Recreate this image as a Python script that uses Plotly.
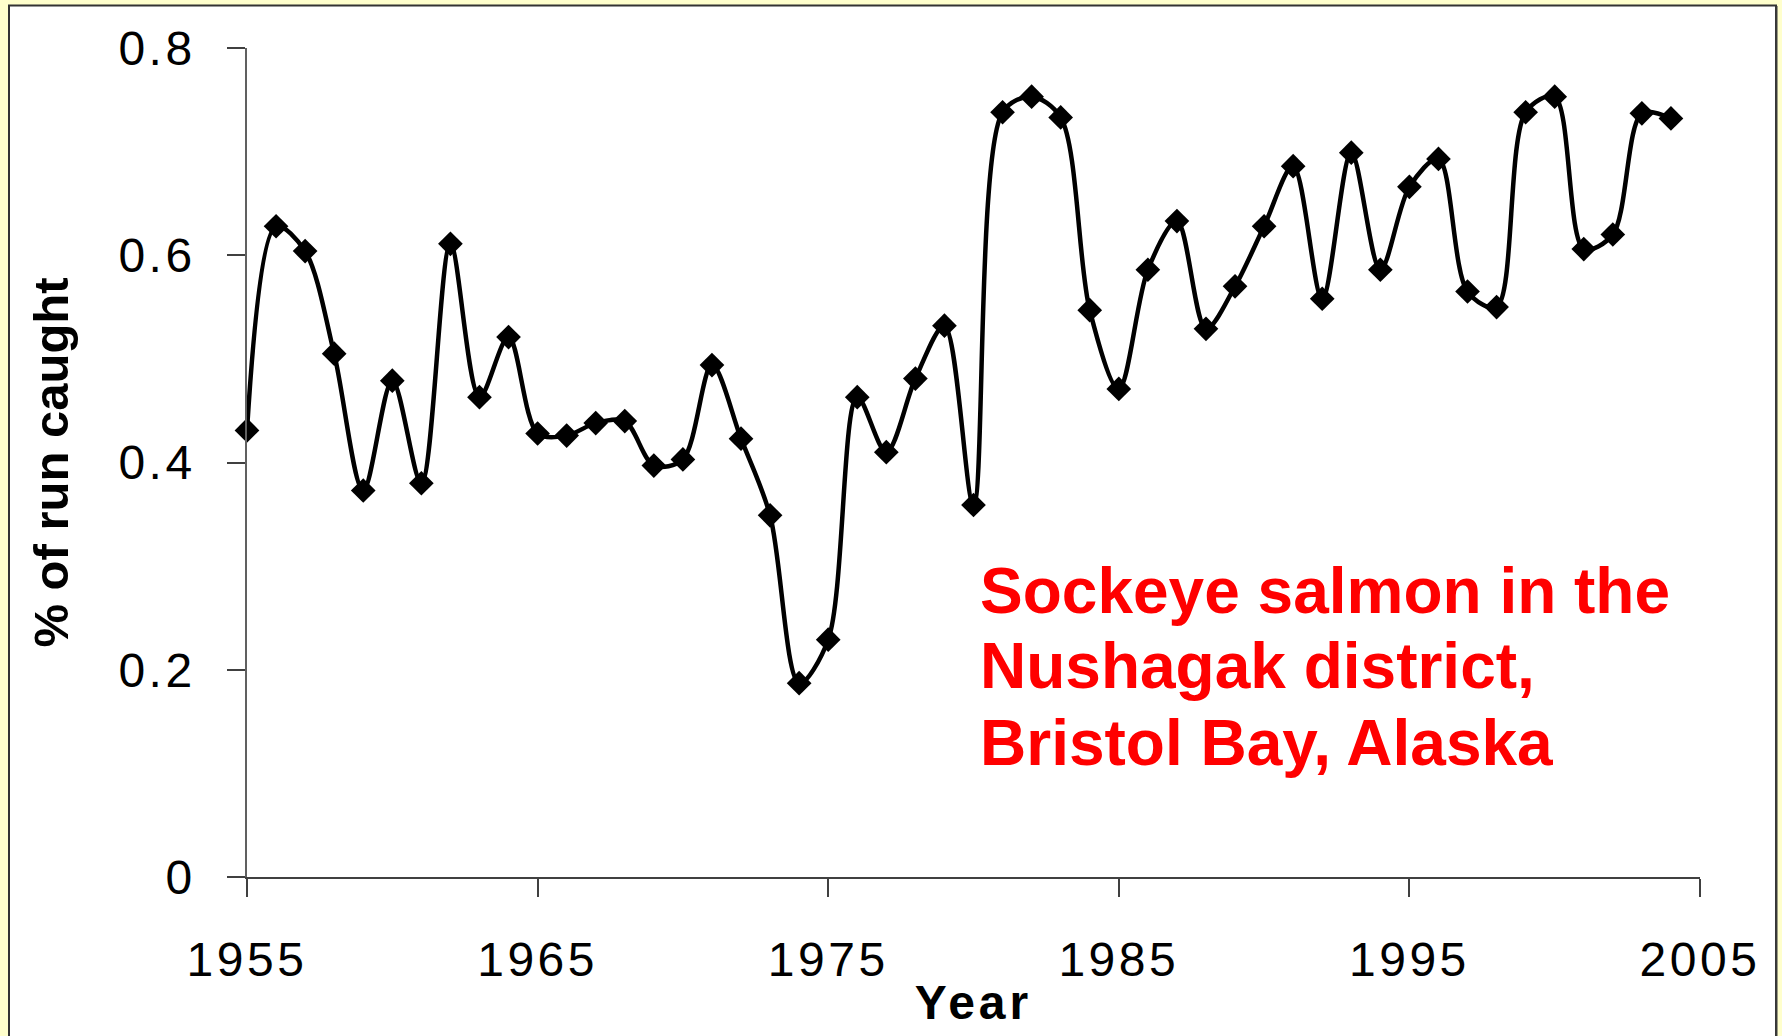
import plotly.graph_objects as go

years = list(range(1955, 2005))
caught = [0.431, 0.628, 0.604, 0.505, 0.373, 0.479, 0.380, 0.611, 0.463, 0.521,
          0.428, 0.426, 0.438, 0.440, 0.397, 0.403, 0.494, 0.423, 0.349, 0.187,
          0.229, 0.463, 0.410, 0.481, 0.532, 0.359, 0.738, 0.753, 0.733, 0.547,
          0.471, 0.586, 0.633, 0.529, 0.570, 0.628, 0.686, 0.558, 0.699, 0.586,
          0.666, 0.693, 0.565, 0.550, 0.738, 0.753, 0.606, 0.620, 0.737, 0.732]

x_ticks = [1955, 1965, 1975, 1985, 1995, 2005]
y_ticks = [0, 0.2, 0.4, 0.6, 0.8]
y_tick_text = ["0", "0.2", "0.4", "0.6", "0.8"]
note_lines = ["Sockeye salmon in the", "Nushagak district,", "Bristol Bay, Alaska"]

W, H = 1782, 1036
L, R, T, B = 247, 82, 48, 159
pw, ph = W - L - R, H - T - B

def px_x(p):
    return (p - L) / pw

def px_y(p):
    return (H - B - p) / ph

fig = go.Figure()
fig.add_trace(go.Scatter(
    x=years, y=caught, mode="lines+markers",
    line=dict(color="black", width=4.5, shape="spline", smoothing=0.9),
    marker=dict(symbol="diamond", size=19, color="black"),
    showlegend=False, cliponaxis=False,
))

fig.add_shape(type="rect", xref="paper", yref="paper",
              x0=px_x(9), x1=px_x(1776), y0=px_y(1060), y1=px_y(5.5),
              line=dict(color="#333333", width=2), fillcolor="white", layer="below")
fig.add_shape(type="line", xref="paper", yref="paper",
              x0=px_x(1776.5), x1=px_x(1776.5), y0=px_y(1060), y1=px_y(6),
              line=dict(color="#3a3a3a", width=2), layer="below")

centers = [591, 666, 743]
for txt, c in zip(note_lines, centers):
    fig.add_annotation(text=txt, xref="paper", yref="paper",
                       x=px_x(978), y=px_y(c), xanchor="left", yanchor="middle",
                       showarrow=False, align="left",
                       font=dict(family="Liberation Sans, Arial", size=64,
                                 color="#FF0000", weight="bold"))

font_tick = dict(family="Liberation Sans, Arial", size=48, color="black")
fig.update_layout(
    width=W, height=H,
    margin=dict(l=L, r=R, t=T, b=B, pad=0),
    paper_bgcolor="#FFFFCC",
    plot_bgcolor="rgba(0,0,0,0)",
    xaxis=dict(range=[1955, 2005], tickvals=x_ticks, ticktext=[str(v) for v in x_ticks],
               showgrid=False, zeroline=False, showline=True, linecolor="#404040", linewidth=1.5,
               ticks="outside", ticklen=18, tickwidth=1.5, tickcolor="#404040",
               tickfont=font_tick, ticklabelstandoff=22,
               title=dict(text="Year", standoff=0,
                          font=dict(family="Liberation Sans, Arial", size=48, color="black", weight="bold"))),
    yaxis=dict(range=[0, 0.8], tickvals=y_ticks, ticktext=y_tick_text,
               showgrid=False, zeroline=False, showline=True, linecolor="#606060", linewidth=1.5,
               ticks="outside", ticklen=18, tickwidth=1.5, tickcolor="#404040",
               tickfont=font_tick, ticklabelstandoff=22,
               title=dict(text="% of run caught", standoff=45,
                          font=dict(family="Liberation Sans, Arial", size=49, color="black", weight="bold"))),
)

post = ("var s=document.createElement('style');"
        "s.textContent='body{margin:0;overflow:hidden}"
        " .xtick text,.ytick text{letter-spacing:3.5px}"
        " .xtitle{letter-spacing:4px}';"
        "document.head.appendChild(s);")

fig.write_html("out.html", post_script=post, config={"displayModeBar": False})
